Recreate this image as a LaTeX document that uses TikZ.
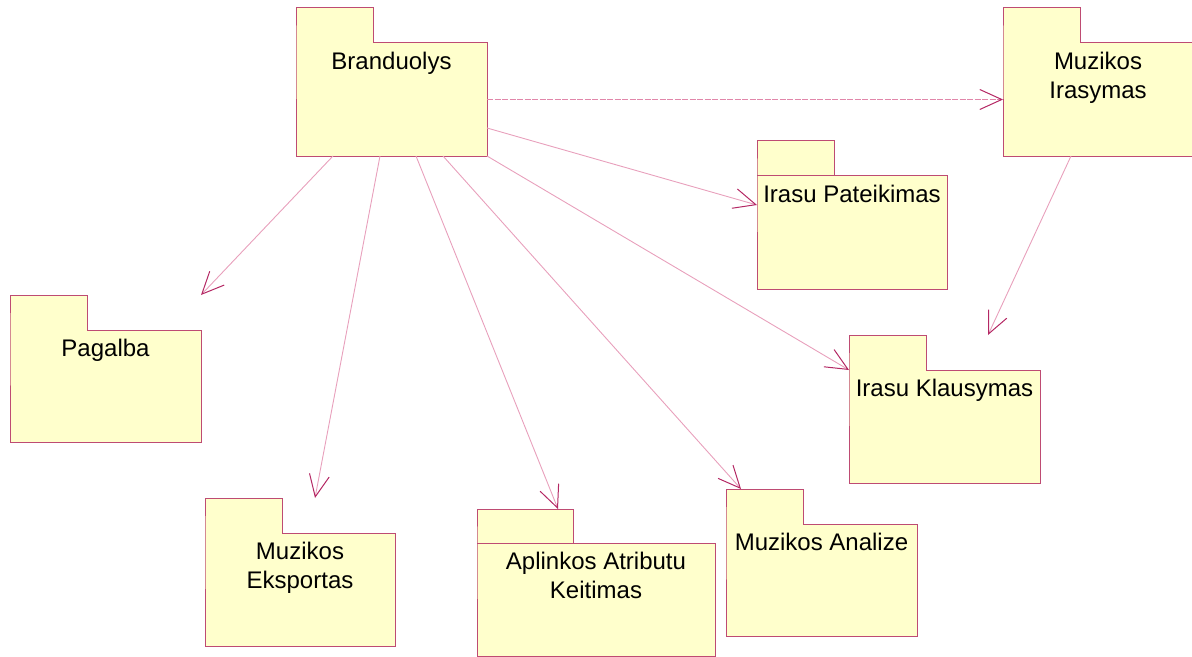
\documentclass[tikz,border=0pt]{standalone}
\usepackage{fontspec}
\setmainfont{Liberation Sans}
\usetikzlibrary{calc,arrows.meta}

\definecolor{pkgfill}{RGB}{255,255,204}
\definecolor{pkgedge}{RGB}{190,75,115}
\definecolor{deplink}{RGB}{232,160,188}
\definecolor{dashlink}{RGB}{225,135,170}
\definecolor{dephead}{RGB}{180,40,100}

\tikzset{
  pkgbody/.style={draw=none, fill=none, inner sep=0pt, outer sep=0pt, anchor=north west},
  pkgline/.style={draw=pkgedge, fill=pkgfill, line width=1bp, line join=miter},
  pkgtext/.style={inner sep=0pt, outer sep=0pt, anchor=north, align=center,
    font=\fontsize{24bp}{29bp}\selectfont},
  dep/.style={draw=deplink, line width=0.9bp,
    -{Straight Barb[length=22bp, width=20bp, color=dephead, line width=1bp]}},
  depdash/.style={dep, draw=dashlink, dash pattern=on 6bp off 1.5bp},
}

% package: name, left x, top of tab, width, body height, tab width, tab height, title
\newcommand\umlpkg[8]{%
  \node[pkgbody, minimum width=#4bp, minimum height=#5bp] (#1) at (#2,#3+#7) {};
  \filldraw[pkgline] (#1.north west) -- ++(0,-#7) -- ++(#6,0) -- ++(0,#7)
    -- (#1.north east) -- (#1.south east) -- (#1.south west) -- cycle;
  \node[pkgtext] (#1-title) at ($(#1.north)+(0,9)$) {#8};
}

\begin{document}
\begin{tikzpicture}[x=1bp, y=-1bp]
  \useasboundingbox (0,0) rectangle (1192,657);

  \umlpkg{bran}{296}{8}{191}{113}{77}{35}{Branduolys}
  \umlpkg{irasym}{1003}{8}{190}{113}{77}{35}{Muzikos\\Irasymas}
  \umlpkg{pateik}{757}{141}{190}{113}{77}{35}{Irasu Pateikimas}
  \umlpkg{pagalba}{10}{295}{191}{112}{77}{35}{Pagalba}
  \umlpkg{klaus}{849}{335}{191}{113}{77}{35}{Irasu Klausymas}
  \umlpkg{eksp}{205}{498}{190}{113}{77}{35}{Muzikos\\Eksportas}
  \umlpkg{aplink}{477}{509}{238}{113}{96}{34}{Aplinkos Atributu\\Keitimas}
  \umlpkg{analize}{726}{489}{191}{112}{77}{35}{Muzikos Analize}

  % tab separators on the two wide-titled packages
  \draw[pkgline, fill=none] (pateik.north west) -- (pateik.north east);
  \draw[pkgline, fill=none] (aplink.north west) -- (aplink.north east);

  % dependencies
  \draw[depdash] (bran.east) -- (irasym.west);
  \draw[dep] ($(bran.north east)+(0,85)$) -- ($(pateik.north west)+(0,29)$);
  \draw[dep] (bran.south east) -- (klaus.north west);
  \draw[dep] ($(bran.south west)+(37,0)$) -- ($(pagalba.north east)+(0,-35)$);
  \draw[dep] ($(bran.south west)+(84,0)$) -- ($(eksp.north west)+(110,-35)$);
  \draw[dep] ($(bran.south west)+(120,0)$) -- ($(aplink.north west)+(81,-34)$);
  \draw[dep] ($(bran.south west)+(147,0)$) -- ($(analize.north west)+(15,-35)$);
  \draw[dep] ($(irasym.south west)+(68,0)$) -- ($(klaus.north west)+(139,-35)$);
\end{tikzpicture}
\end{document}
